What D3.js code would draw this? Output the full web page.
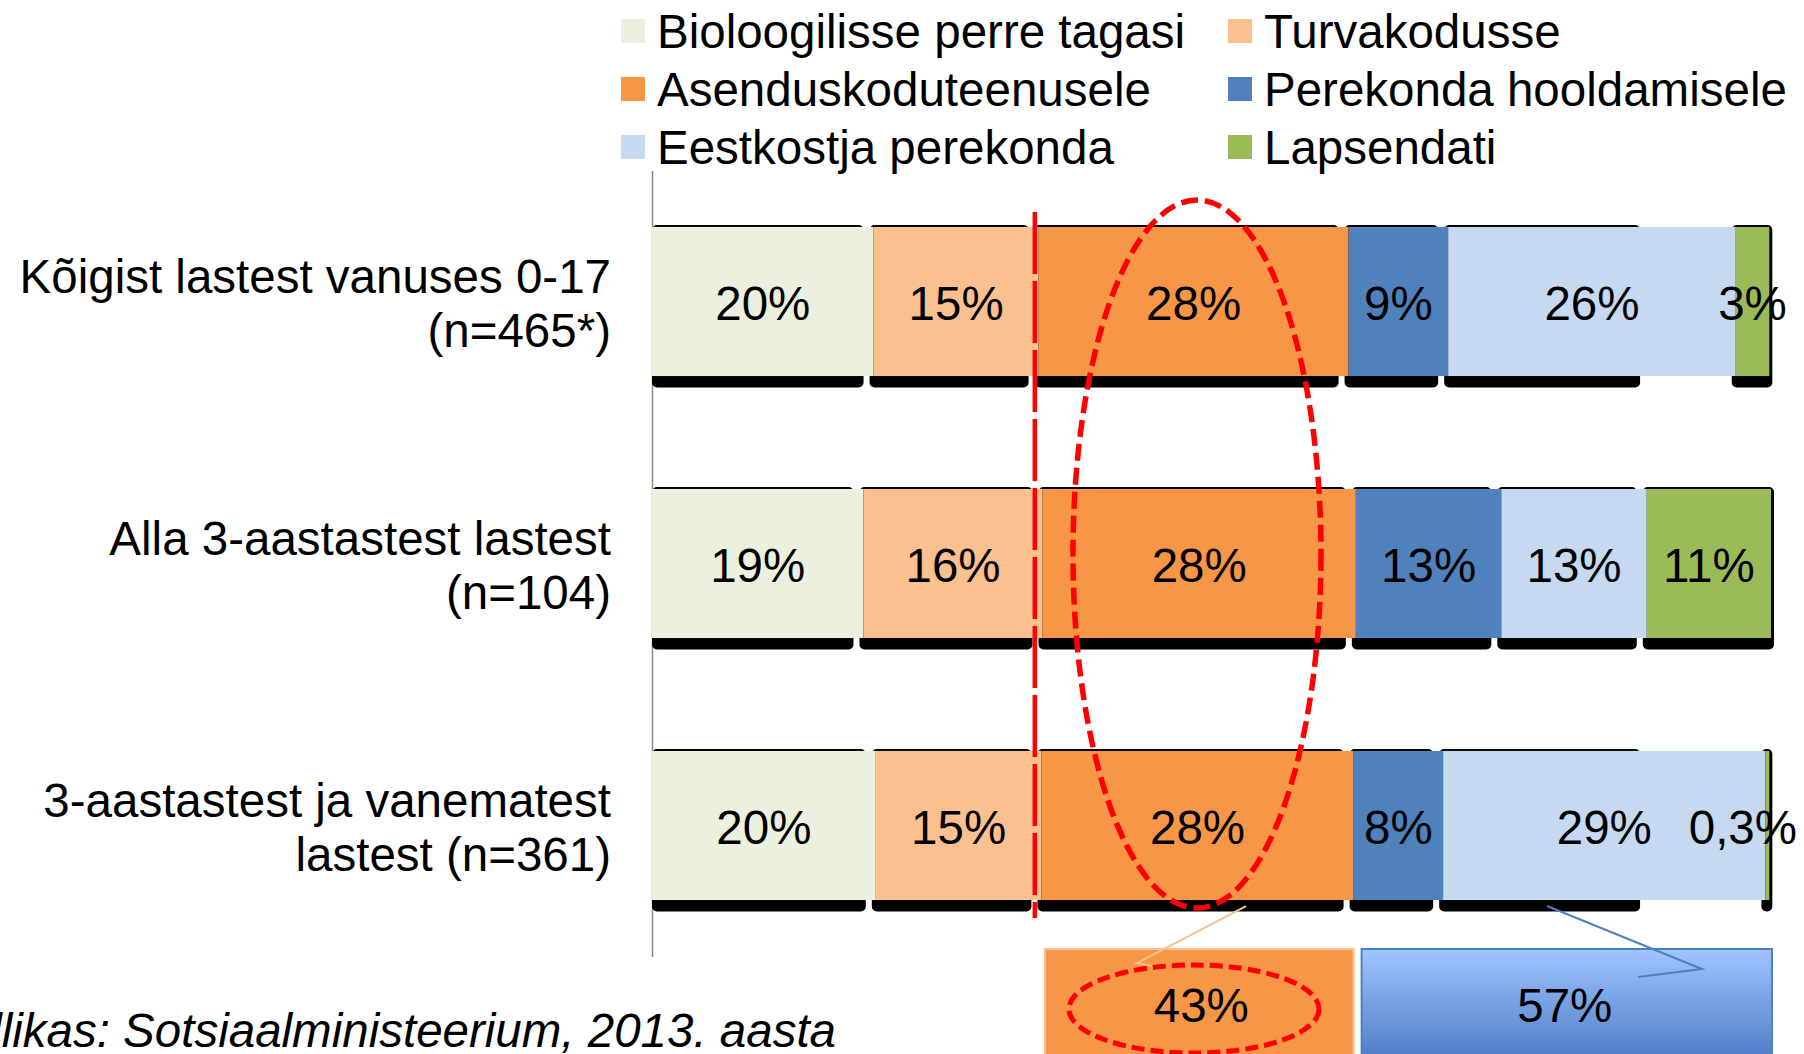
<!DOCTYPE html>
<html>
<head>
<meta charset="utf-8">
<script src="https://cdn.jsdelivr.net/npm/d3@7"></script>
<style>
  body { margin: 0; background: #fff; }
  svg { display: block; font-family: "Liberation Sans", Arial, sans-serif; }
</style>
</head>
<body>
<script>
// kategooriad, kaks rida teksti
const categories = [
  ["Kõigist lastest vanuses 0-17", "(n=465*)"],
  ["Alla 3-aastastest lastest", "(n=104)"],
  ["3-aastastest ja vanematest", "lastest (n=361)"]
]
const seriesNames = ["Bioloogilisse perre tagasi", "Turvakodusse", "Asenduskoduteenusele",
  "Perekonda hooldamisele", "Eestkostja perekonda", "Lapsendati"]
const seriesColors = ["#ebf1de", "#fac090", "#f79646", "#4f81bd", "#c6d9f1", "#9bbb59"]

// osakaalud (%) igas reas
const values = [
  [19.8, 14.75, 27.7, 8.9, 25.7, 3.0],
  [18.9, 16.0, 28.0, 13.0, 13.0, 11.1],
  [20.0, 14.8, 27.9, 8.0, 28.8, 0.35]
]
const valueLabels = [
  ["20%", "15%", "28%", "9%", "26%", "3%"],
  ["19%", "16%", "28%", "13%", "13%", "11%"],
  ["20%", "15%", "28%", "8%", "29%", "0,3%"]
]
// alumine jaotus
const splitValues = [43, 57]
const splitLabels = ["43%", "57%"]
const refValue = 34.3   // punane katkendjoon

const width = 1804, height = 1054
const fontSize = 47.5

const svg = d3.select("body").append("svg")
  .attr("width", width).attr("height", height)

const x = d3.scaleLinear().domain([0, 100]).range([652, 1771])
const y = d3.scaleBand().domain(d3.range(categories.length))
  .range([170.5, 956.5]).paddingInner(0.431).paddingOuter(0.2155)

// telg
svg.append("g")
  .attr("transform", "translate(" + x(0) + ",0)")
  .call(d3.axisLeft(y).tickSize(0).tickFormat(""))
  .call(g => g.select(".domain").attr("stroke", "#8c8c8c").attr("stroke-width", 1.5))

// kuhjad
const rows = values.map((r, ri) => {
  let acc = 0
  return r.map((v, i) => {
    const d = {row: ri, i: i, x0: acc, x1: acc + v, label: valueLabels[ri][i]}
    acc += v
    return d
  })
})
const segs = rows.flat()
const cutoff = x(88.3)

// must "vari" iga lõigu all
svg.append("g").selectAll("rect")
  .data(segs)
  .join("rect")
  .attr("x", d => d.i == 0 ? x(d.x0) : x(d.x0) - 4)
  .attr("y", d => y(d.row) - 2)
  .attr("width", d => {
    const sx0 = d.i == 0 ? x(d.x0) : x(d.x0) - 4
    let sx1 = d.i == 5 ? x(d.x1) + 3 : x(d.x1) - 10
    if (x(d.x0) < cutoff) sx1 = Math.min(sx1, cutoff)
    return Math.max(0, sx1 - sx0)
  })
  .attr("height", y.bandwidth() + 13.5)
  .attr("rx", 5)
  .attr("fill", "#000")

svg.append("g").selectAll("rect")
  .data(segs)
  .join("rect")
  .attr("x", d => x(d.x0))
  .attr("y", d => y(d.row))
  .attr("width", d => x(d.x1) - x(d.x0))
  .attr("height", y.bandwidth())
  .attr("fill", d => seriesColors[d.i])

// punane vertikaalne katkendjoon
svg.append("line")
  .attr("x1", x(refValue) - 1).attr("x2", x(refValue) - 1)
  .attr("y1", 212).attr("y2", 918)
  .attr("stroke", "#ff0000").attr("stroke-width", 4.5)
  .attr("stroke-dasharray", "62,7")

// väärtuste sildid
svg.append("g").selectAll("text")
  .data(segs)
  .join("text")
  .attr("x", d => (x(d.x0) + x(d.x1)) / 2)
  .attr("y", d => y(d.row) + y.bandwidth() / 2)
  .attr("dy", "0.38em")
  .attr("text-anchor", "middle")
  .attr("font-size", fontSize)
  .text(d => d.label)
  .each(function(d) {
    // ei lase sildil lõuendist välja minna
    const w = this.getComputedTextLength()
    const c = (x(d.x0) + x(d.x1)) / 2
    d3.select(this).attr("x", Math.min(c, width - 7 - w / 2))
  })

// kategooriate sildid
const catText = svg.append("g").selectAll("text")
  .data(categories)
  .join("text")
  .attr("text-anchor", "end")
  .attr("font-size", fontSize)
catText.selectAll("tspan")
  .data((d, i) => d.map((t, j) => ({t: t, j: j, row: i})))
  .join("tspan")
  .attr("x", 611)
  .attr("y", d => y(d.row) + y.bandwidth() / 2 + (d.j == 0 ? -9 : 45))
  .text(d => d.t)

// legend
const legend = svg.append("g").selectAll("g")
  .data(seriesNames)
  .join("g")
  .attr("transform", (d, i) => "translate(" + (i % 2 == 0 ? 621 : 1228) + "," + (48 + Math.floor(i / 2) * 58) + ")")
legend.append("rect")
  .attr("x", 0).attr("y", -29).attr("width", 24).attr("height", 24)
  .attr("fill", (d, i) => seriesColors[i])
legend.append("text")
  .attr("x", 36)
  .attr("font-size", fontSize)
  .text(d => d)

// alumine jaotus 43% / 57%
const xs = d3.scaleLinear().domain([0, 100]).range([1045, 1772])
const defs = svg.append("defs")
const grad = defs.append("linearGradient").attr("id", "blueGrad")
  .attr("x1", 0).attr("y1", 0).attr("x2", 0).attr("y2", 1)
grad.append("stop").attr("offset", "0%").attr("stop-color", "#a0c4ff")
grad.append("stop").attr("offset", "100%").attr("stop-color", "#4677c2")

const splitTop = 949
const splitFills = ["#f79646", "url(#blueGrad)"]
const splitStrokes = ["#fac090", "#4f81bd"]
let acc = 0
const splitData = splitValues.map((v, i) => { const d = {x0: acc, x1: acc + v, i: i}; acc += v; return d })
svg.append("g").selectAll("rect")
  .data(splitData)
  .join("rect")
  .attr("x", d => xs(d.x0) + (d.i == 0 ? 0 : 4))
  .attr("y", splitTop)
  .attr("width", d => xs(d.x1) - xs(d.x0) - 4)
  .attr("height", 120)
  .attr("fill", d => splitFills[d.i])
  .attr("stroke", d => splitStrokes[d.i])
  .attr("stroke-width", 2)
svg.append("g").selectAll("text")
  .data(splitData)
  .join("text")
  .attr("x", d => (xs(d.x0) + xs(d.x1)) / 2)
  .attr("y", 1022)
  .attr("text-anchor", "middle")
  .attr("font-size", fontSize)
  .text((d, i) => splitLabels[i])

// ühendusjooned
const lastRow = y(2) + y.bandwidth() + 6
svg.append("path")
  .attr("d", d3.line()([[1246, lastRow], [1137, 963], [1152, 966]]))
  .attr("fill", "none").attr("stroke", "#fac090").attr("stroke-width", 2)
svg.append("path")
  .attr("d", d3.line()([[1547, lastRow], [1702, 969], [1638, 977]]))
  .attr("fill", "none").attr("stroke", "#4f81bd").attr("stroke-width", 2)

// punased ellipsid
svg.append("ellipse")
  .attr("cx", 1197).attr("cy", 554).attr("rx", 124).attr("ry", 354)
  .attr("fill", "none").attr("stroke", "#ff0000").attr("stroke-width", 5.5)
  .attr("stroke-dasharray", "17,7")
svg.append("ellipse")
  .attr("cx", 1194).attr("cy", 1009).attr("rx", 125).attr("ry", 44)
  .attr("fill", "none").attr("stroke", "#ff0000").attr("stroke-width", 5)
  .attr("stroke-dasharray", "13,6")

// allikas (vasakult lõigatud)
svg.append("text")
  .attr("x", 836).attr("y", 1047)
  .attr("text-anchor", "end")
  .attr("font-size", fontSize)
  .attr("font-style", "italic")
  .text("Allikas: Sotsiaalministeerium, 2013. aasta")
</script>
</body>
</html>
